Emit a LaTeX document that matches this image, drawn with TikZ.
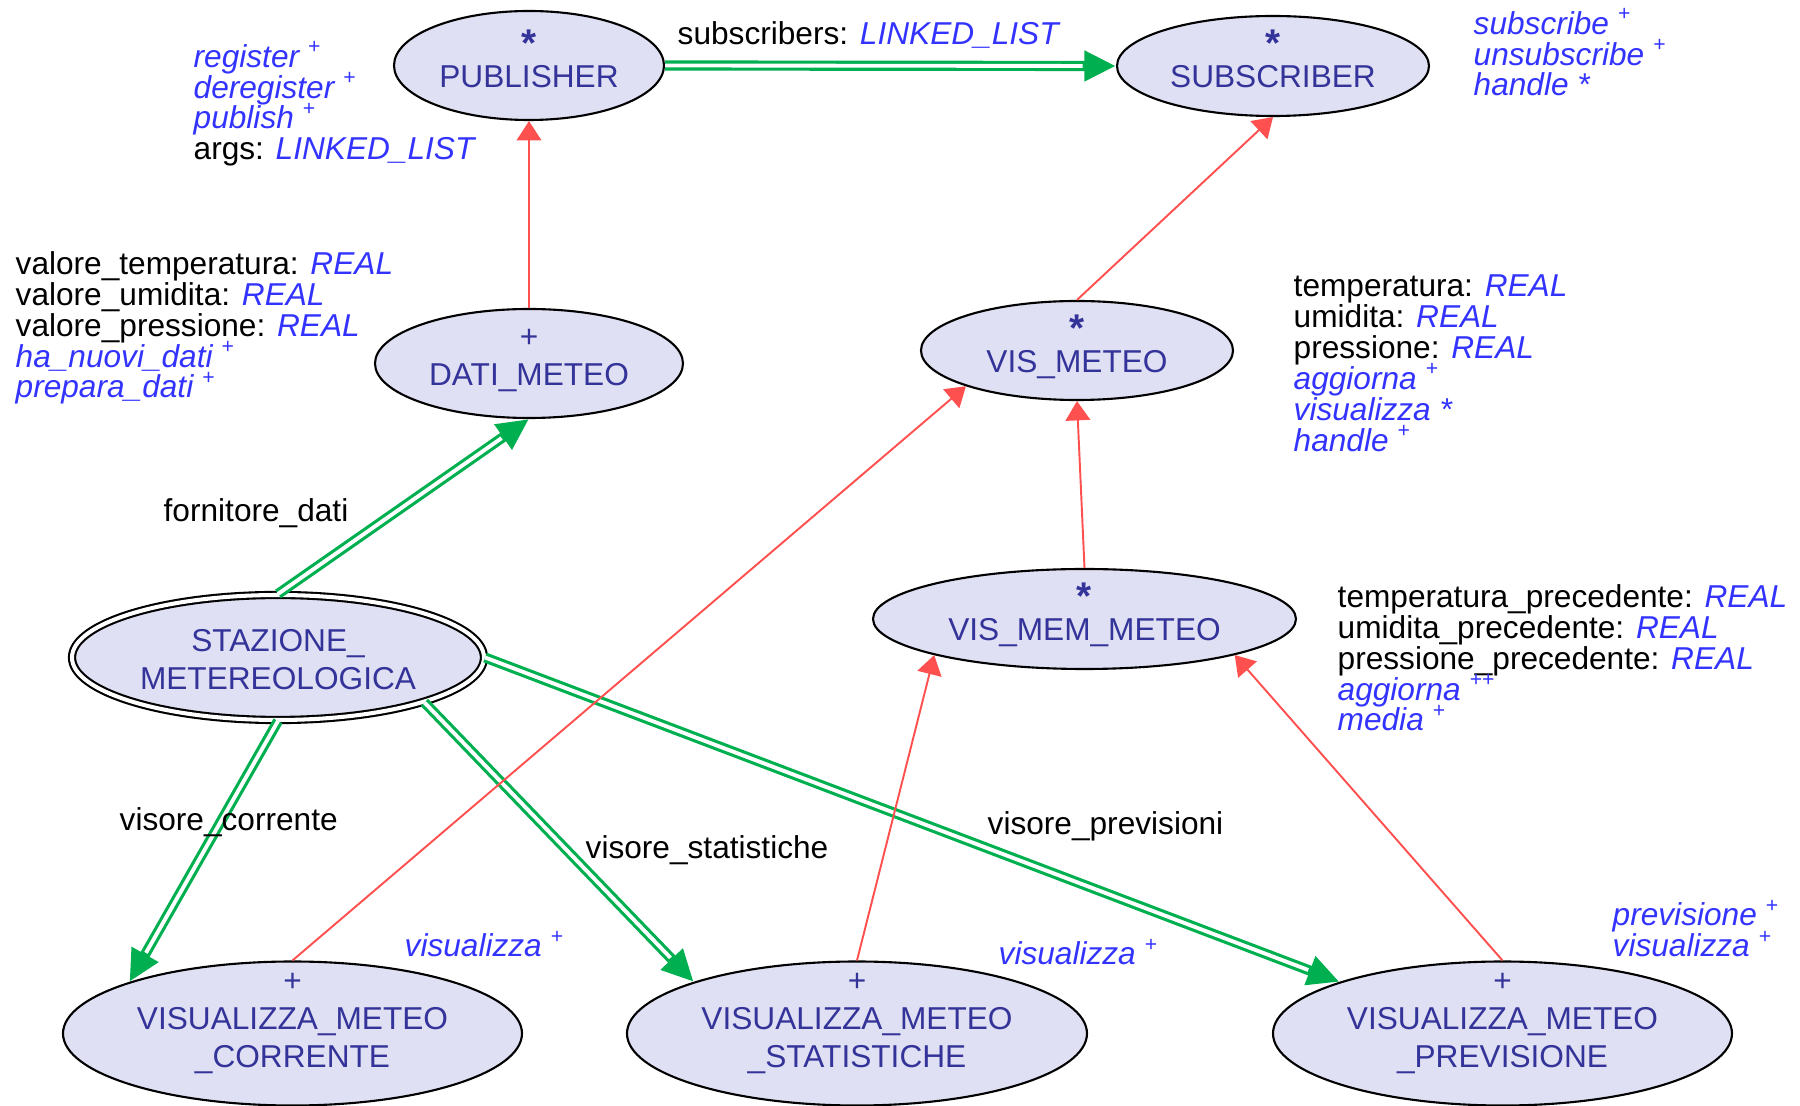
\documentclass[tikz,border=0pt]{standalone}
\usepackage{fontspec}
\setmainfont{Liberation Sans}
\usetikzlibrary{shapes.geometric,arrows.meta}
\definecolor{class-fill}{RGB}{224,224,244}
\definecolor{class-text}{RGB}{51,51,153}
\definecolor{feat-blue}{RGB}{51,51,255}
\definecolor{client-green}{RGB}{0,176,80}
\definecolor{inherit-red}{RGB}{255,80,80}
\newcommand{\ty}[1]{{\color{feat-blue}\itshape #1}}
\newcommand{\op}[2]{{\color{feat-blue}\itshape #1 \textsuperscript{#2}}}
\newcommand{\deferred}{\raisebox{-2pt}{\fontsize{11pt}{10.8pt}\selectfont\bfseries *}}
\setlength{\lineskiplimit}{-5pt}

\begin{document}
\begin{tikzpicture}[x=1cm, y=-1cm,
	cls/.style={ellipse, draw, line width=0.6pt, fill=class-fill, inner sep=0pt},
	clsname/.style={text=class-text, align=center, inner sep=0pt, font=\fontsize{9pt}{10.8pt}\selectfont, execute at begin node=\strut, execute at end node=\strut},
	feats/.style={anchor=north west, align=left, inner sep=0pt, font=\fontsize{9pt}{8.8pt}\selectfont, execute at begin node=\rule{0pt}{8pt}},
	role/.style={anchor=base west, inner sep=0pt, font=\fontsize{9pt}{10.8pt}\selectfont},
	inherit/.style={draw=inherit-red, line width=0.55pt, -{Triangle[length=5.5pt, width=7pt]}},
	client/.style={draw=white, line width=1.1pt, shorten >=9.5pt, preaction={draw=client-green, line width=2.9pt, shorten >=0pt, -{Triangle[length=9pt, width=8.2pt]}}}]

			\useasboundingbox (0,0) rectangle (18,11.06);

			% classi
			\node[cls, minimum width=2.70cm, minimum height=1.09cm] (publisher) at (5.29,0.655) {};
			\node[clsname, yshift=0.4pt] (publisher-txt) at (publisher) {\deferred\\PUBLISHER};
			\node[cls, minimum width=3.12cm, minimum height=1.00cm] (subscriber) at (12.73,0.66) {};
			\node[clsname, yshift=0.4pt] (subscriber-txt) at (subscriber) {\deferred\\SUBSCRIBER};
			\node[cls, minimum width=3.08cm, minimum height=1.09cm] (datimeteo) at (5.29,3.635) {};
			\node[clsname] (datimeteo-txt) at (datimeteo) {+\\DATI\_METEO};
			\node[cls, minimum width=3.12cm, minimum height=0.99cm] (vismeteo) at (10.77,3.505) {};
			\node[clsname, yshift=0.4pt] (vismeteo-txt) at (vismeteo) {\deferred\\VIS\_METEO};
			\node[cls, minimum width=4.23cm, minimum height=1.00cm] (vismem) at (10.845,6.19) {};
			\node[clsname, yshift=0.4pt] (vismem-txt) at (vismem) {\deferred\\VIS\_MEM\_METEO};
			\node[cls, double=white, double distance=1.15pt, minimum width=4.12cm, minimum height=1.25cm] (stazione) at (2.78,6.575) {};
			\node[clsname, yshift=-2.2pt] (stazione-txt) at (stazione) {STAZIONE\_\\METEREOLOGICA};
			\node[cls, minimum width=4.59cm, minimum height=1.44cm] (corrente) at (2.925,10.335) {};
			\node[clsname, yshift=2pt] (corrente-txt) at (corrente) {+\\VISUALIZZA\_METEO\\\_CORRENTE};
			\node[cls, minimum width=4.60cm, minimum height=1.44cm] (statistiche) at (8.57,10.335) {};
			\node[clsname, yshift=2pt] (statistiche-txt) at (statistiche) {+\\VISUALIZZA\_METEO\\\_STATISTICHE};
			\node[cls, minimum width=4.59cm, minimum height=1.44cm] (previsione) at (15.025,10.335) {};
			\node[clsname, yshift=2pt] (previsione-txt) at (previsione) {+\\VISUALIZZA\_METEO\\\_PREVISIONE};

			% clienti
			\draw[client] (publisher.east) -- (subscriber.west);
			\draw[client] (stazione.north) -- (datimeteo.south);
			\draw[client] (stazione.south) -- (corrente.north west);
			\draw[client] (stazione.south east) -- (statistiche.north west);
			\draw[client] (stazione.east) -- (previsione.north west);

			% ereditarieta
			\draw[inherit] (datimeteo.north) -- (publisher.south);
			\draw[inherit] (vismeteo.north) -- (subscriber.south);
			\draw[inherit] (vismem.north) -- (vismeteo.south);
			\draw[inherit] (corrente.north) -- (vismeteo.south west);
			\draw[inherit] (statistiche.north) -- (vismem.south west);
			\draw[inherit] (previsione.north) -- (vismem.south east);

			\node[role] (subscribers-lbl) at (6.77,0.45) {subscribers: \ty{LINKED\_LIST}};
			\node[role] (fornitore-lbl) at (1.63,5.22) {fornitore\_dati};
			\node[role] (corrente-lbl) at (1.19,8.31) {visore\_corrente};
			\node[role] (statistiche-lbl) at (5.85,8.59) {visore\_statistiche};
			\node[role] (previsioni-lbl) at (9.87,8.35) {visore\_previsioni};

			\node[feats] (publisher-feat) at (1.93,0.408) {\op{register}{+}\\\op{deregister}{+}\\\op{publish}{+}\\args: \ty{LINKED\_LIST}};
			\node[feats] (subscriber-feat) at (14.73,0.078) {\op{subscribe}{+}\\\op{unsubscribe}{+}\\\ty{handle *}};
			\node[feats] (datimeteo-feat) at (0.15,2.506) {valore\_temperatura: \ty{REAL}\\valore\_umidita: \ty{REAL}\\valore\_pressione: \ty{REAL}\\\op{ha\_nuovi\_dati}{+}\\\op{prepara\_dati}{+}};
			\node[feats] (vismeteo-feat) at (12.93,2.74) {temperatura: \ty{REAL}\\umidita: \ty{REAL}\\pressione: \ty{REAL}\\\op{aggiorna}{+}\\\ty{visualizza *}\\\op{handle}{+}};
			\node[feats] (vismem-feat) at (13.37,5.836) {temperatura\_precedente: \ty{REAL}\\umidita\_precedente: \ty{REAL}\\pressione\_precedente: \ty{REAL}\\\op{aggiorna}{++}\\\op{media}{+}};
			\node[feats] (corrente-feat) at (4.04,9.28) {\op{visualizza}{+}};
			\node[feats] (statistiche-feat) at (9.98,9.36) {\op{visualizza}{+}};
			\node[feats] (previsione-feat) at (16.12,8.993) {\op{previsione}{+}\\\op{visualizza}{+}};

\end{tikzpicture}
\end{document}
